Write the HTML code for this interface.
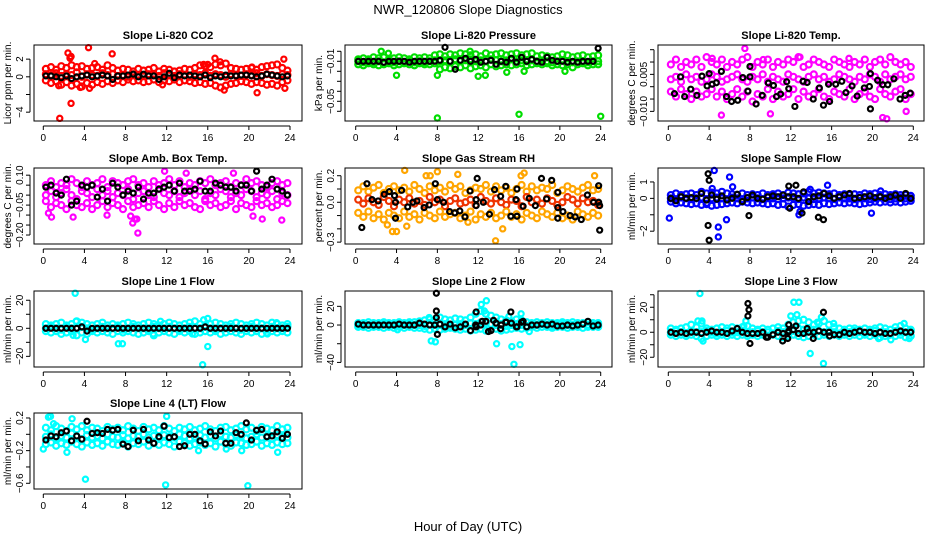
<!DOCTYPE html>
<html><head><meta charset="utf-8"><style>
html,body{margin:0;padding:0;background:#fff;}
svg{display:block;font-family:"Liberation Sans",sans-serif;}
</style></head><body>
<svg id="chart" width="936" height="540" viewBox="0 0 936 540">
<text x="468" y="14" text-anchor="middle" font-size="13">NWR_120806  Slope Diagnostics</text>
<text x="468" y="531" text-anchor="middle" font-size="13">Hour of Day (UTC)</text>
<g id="plots"></g>
</svg>
<script>
const H=[0.25,0.75,1.25,1.75,2.25,2.75,3.25,3.75,4.25,4.75,5.25,5.75,6.25,6.75,7.25,7.75,8.25,8.75,9.25,9.75,10.25,10.75,11.25,11.75,12.25,12.75,13.25,13.75,14.25,14.75,15.25,15.75,16.25,16.75,17.25,17.75,18.25,18.75,19.25,19.75,20.25,20.75,21.25,21.75,22.25,22.75,23.25,23.75];
const xTicks=[0,4,8,12,16,20,24];

// Panel 1: CO2
const co2A=[0.9,1.1,0.8,1.2,1.0,1.3,1.1,1.2,0.9,1.0,1.1,0.8,1.3,1.0,0.7,0.9,0.8,0.6,0.9,0.7,0.8,1.0,0.6,0.9,0.8,0.6,0.7,0.9,0.8,1.0,1.3,1.2,1.1,1.4,1.3,1.5,1.0,0.9,0.8,0.9,1.0,0.8,1.1,1.2,1.3,1.4,1.0,0.7];
const co2B=[0.3,0.2,0.4,0.1,0.3,0.2,0.5,0.0,0.3,0.2,0.1,0.4,0.2,0.3,0.1,0.2,0.0,0.3,0.1,0.2,0.3,0.2,0.1,0.4,0.2,0.1,0.3,0.2,0.0,0.3,0.2,0.4,0.1,0.3,0.2,0.0,0.3,0.2,0.1,0.3,0.2,0.4,0.1,0.3,0.2,0.1,0.3,0.2];
const co2C=[-0.4,-0.7,-0.5,-0.9,-0.6,-1.0,-0.8,-1.1,-0.7,-0.9,-0.6,-0.8,-0.5,-0.7,-0.4,-0.6,-0.3,-0.5,-0.4,-0.6,-0.5,-0.3,-0.6,-0.4,-0.5,-0.3,-0.6,-0.4,-0.5,-0.7,-0.6,-0.8,-0.7,-1.0,-1.2,-1.0,-0.8,-0.7,-0.5,-0.6,-0.8,-0.6,-0.7,-0.9,-0.8,-1.0,-0.6,-0.4];
const co2K=[0.1,0.1,0.0,-0.1,0.1,-0.2,0.0,0.1,0.2,0.0,0.1,0.2,0.1,-0.3,0.1,0.1,0.2,0.3,0.0,0.3,0.1,0.1,-0.3,0.0,0.4,-0.1,0.2,0.1,0.2,0.1,0.0,0.2,-0.1,0.1,0.0,0.2,0.1,0.1,0.2,0.2,0.1,0.0,0.1,0.3,0.2,0.1,0.0,0.1];
const co2OH=[2.4,2.6,2.7,4.4,6.7,1.6,2.7,1.5,3.6,4.5,16.7,17.2,20.8,23.4,23.5,11.6,15.6,5.0,20.3,16.0,17.6];
const co2OV=[2.7,2.1,2.3,3.3,2.6,-4.7,-3.0,-1.0,-1.2,-1.3,2.1,1.7,-1.8,2.0,-1.3,-0.9,1.4,1.5,1.1,1.4,-1.5];

// Panel 2: Pressure
const prA=[-0.008,-0.007,-0.008,-0.006,-0.007,-0.006,-0.008,-0.007,-0.006,-0.007,-0.008,-0.006,-0.007,-0.006,-0.007,-0.004,-0.003,-0.005,-0.003,-0.004,-0.002,-0.003,-0.004,-0.003,-0.005,-0.002,-0.004,-0.003,-0.002,-0.004,-0.003,-0.002,-0.004,-0.003,-0.002,-0.005,-0.004,-0.005,-0.006,-0.005,-0.003,-0.004,-0.006,-0.005,-0.004,-0.006,-0.005,-0.004];
const prB=[-0.010,-0.011,-0.010,-0.011,-0.010,-0.011,-0.010,-0.011,-0.010,-0.011,-0.010,-0.011,-0.010,-0.011,-0.010,-0.009,-0.010,-0.009,-0.010,-0.008,-0.010,-0.009,-0.008,-0.010,-0.009,-0.010,-0.008,-0.009,-0.010,-0.009,-0.008,-0.010,-0.009,-0.010,-0.009,-0.010,-0.009,-0.010,-0.011,-0.010,-0.009,-0.010,-0.011,-0.010,-0.010,-0.011,-0.010,-0.010];
const prC=[-0.013,-0.014,-0.012,-0.013,-0.014,-0.013,-0.012,-0.014,-0.013,-0.012,-0.013,-0.014,-0.012,-0.013,-0.013,-0.012,-0.018,-0.016,-0.017,-0.015,-0.016,-0.014,-0.017,-0.015,-0.014,-0.016,-0.013,-0.015,-0.014,-0.013,-0.014,-0.013,-0.012,-0.014,-0.013,-0.012,-0.013,-0.012,-0.014,-0.013,-0.014,-0.013,-0.016,-0.013,-0.012,-0.014,-0.013,-0.013];
const prK=[-0.010,-0.010,-0.010,-0.010,-0.010,-0.011,-0.010,-0.010,-0.010,-0.010,-0.011,-0.010,-0.010,-0.010,-0.010,-0.010,-0.009,0.004,-0.010,-0.018,-0.009,-0.007,-0.010,-0.008,-0.011,-0.010,-0.009,-0.013,-0.010,-0.011,-0.007,-0.011,-0.006,-0.010,-0.008,-0.010,-0.011,-0.006,-0.009,-0.010,-0.010,-0.011,-0.010,-0.011,-0.010,-0.010,-0.010,0.003];
const prOH=[2.5,3.2,4.0,8.0,8.0,16.0,24.0,11.2,16.5,20.5,12.0,12.7,14.8];
const prOV=[0.0,-0.002,-0.024,-0.024,-0.0667,-0.063,-0.065,0.0,-0.020,-0.020,-0.025,-0.024,-0.021];

// Panel 3: Li-820 Temp
const tpA=[0.009,0.011,0.008,0.010,0.009,0.011,0.008,0.012,0.010,0.009,0.011,0.008,0.010,0.009,0.011,0.012,0.008,0.010,0.009,0.011,0.008,0.010,0.009,0.011,0.010,0.012,0.008,0.009,0.011,0.010,0.009,0.008,0.011,0.010,0.009,0.008,0.010,0.009,0.011,0.008,0.010,0.011,0.009,0.012,0.010,0.009,0.010,0.008];
const tpB=[0.003,0.004,0.002,0.005,0.003,0.004,0.002,0.003,0.005,0.004,0.002,0.003,0.004,0.005,0.003,0.002,0.004,0.003,0.005,0.002,0.004,0.003,0.002,0.005,0.004,0.003,0.002,0.004,0.005,0.003,0.004,0.002,0.003,0.005,0.004,0.003,0.002,0.004,0.003,0.005,0.004,0.002,0.005,0.003,0.004,0.005,0.003,0.004];
const tpC=[-0.002,-0.004,-0.001,-0.003,-0.005,-0.002,-0.004,-0.003,-0.001,-0.004,-0.002,-0.005,-0.003,-0.001,-0.004,-0.002,-0.006,-0.003,-0.004,-0.001,-0.005,-0.002,-0.004,-0.003,-0.001,-0.005,-0.002,-0.004,-0.003,-0.001,-0.004,-0.005,-0.002,-0.003,-0.004,-0.001,-0.005,-0.003,-0.002,-0.004,-0.005,-0.001,-0.003,-0.004,-0.002,-0.001,-0.005,-0.003];
const tpKH=[0.6,1.2,1.6,2.2,2.8,3.3,3.8,4.0,4.3,4.7,5.2,5.7,6.2,6.8,7.3,7.8,8.0,8.0,8.6,9.2,9.8,10.3,10.6,11.0,11.6,11.8,12.4,13.2,13.6,14.2,14.8,15.2,15.7,15.8,16.4,17.0,17.4,18.0,18.5,19.2,19.7,19.8,19.8,20.5,21.0,21.5,22.1,22.7,23.2,23.7];
const tpKV=[-0.0028,0.004,-0.004,-0.001,-0.0035,0.0043,0.0003,0.0053,0.001,0.0016,0.0062,-0.004,-0.006,-0.0055,0.0037,-0.0018,0.004,0.0082,-0.007,-0.0035,0.0015,0.0005,-0.004,-0.003,0.002,-0.0008,-0.008,0.0022,0.0017,-0.005,-0.0005,-0.0075,0.001,-0.006,0.001,0.0022,-0.0024,0.0003,-0.0038,-0.0005,0.0001,0.0053,-0.009,0.0026,0.0008,0.0008,0.0032,-0.005,-0.0035,-0.0026];
const tpOH=[7.5,5.2,21.0,21.4,23.3,17.7,10.0,12.9,4.3,9.3];
const tpOV=[0.0155,-0.0115,-0.0125,-0.013,-0.010,0.0115,-0.011,0.012,0.0115,0.011];

// Panel 4: Amb. Box Temp
const abA=[0.05,0.07,0.04,0.06,0.05,0.08,0.06,0.04,0.07,0.05,0.06,0.08,0.04,0.07,0.06,0.05,0.07,0.08,0.05,0.06,0.04,0.07,0.05,0.06,0.08,0.05,0.07,0.04,0.06,0.05,0.07,0.06,0.08,0.05,0.06,0.07,0.04,0.06,0.05,0.08,0.06,0.07,0.05,0.04,0.06,0.07,0.05,0.06];
const abB=[0.00,0.02,-0.01,0.01,0.03,0.00,-0.02,0.02,0.01,-0.01,0.03,0.00,0.02,-0.01,0.01,0.00,0.03,-0.02,0.01,0.02,0.00,-0.01,0.03,0.01,0.00,0.02,-0.01,0.01,0.03,0.00,0.02,-0.02,0.01,0.00,0.03,0.02,-0.01,0.01,0.00,0.03,0.02,-0.01,0.01,0.00,0.02,-0.02,0.01,0.00];
const abC=[-0.03,-0.06,-0.04,-0.05,-0.07,-0.03,-0.05,-0.06,-0.04,-0.07,-0.05,-0.03,-0.06,-0.04,-0.05,-0.07,-0.03,-0.06,-0.05,-0.04,-0.06,-0.03,-0.05,-0.07,-0.04,-0.06,-0.03,-0.05,-0.04,-0.06,-0.07,-0.03,-0.05,-0.04,-0.06,-0.05,-0.03,-0.07,-0.04,-0.05,-0.06,-0.03,-0.05,-0.04,-0.06,-0.05,-0.03,-0.04];
const abK=[0.04,0.05,0.01,0.0,0.08,-0.05,-0.03,0.05,0.04,0.05,-0.01,0.03,-0.03,0.06,0.04,0.0,0.02,0.01,0.04,-0.02,0.01,0.01,0.03,0.04,0.05,0.02,0.06,0.02,0.02,0.03,0.07,0.02,0.02,0.06,0.05,0.04,0.04,0.02,0.05,0.05,0.02,0.12,0.03,0.05,0.08,0.03,0.02,0.0];
const abOH=[9.2,8.7,9.1,8.9,0.8,2.9,20.4,21.3,23.2,0.5,11.8,18.5,8.5,6.2,13.9];
const abOV=[-0.19,-0.14,-0.12,-0.12,-0.11,-0.11,-0.105,-0.12,-0.125,-0.09,0.12,0.11,-0.105,-0.10,0.11];

// Panel 5: Gas Stream RH
const rhA=[0.09,0.12,0.08,0.11,0.13,0.07,0.10,0.12,0.09,0.11,0.08,0.13,0.10,0.07,0.12,0.09,0.11,0.08,0.13,0.10,0.12,0.07,0.09,0.11,0.10,0.13,0.08,0.12,0.09,0.11,0.07,0.10,0.13,0.08,0.12,0.09,0.11,0.10,0.13,0.07,0.09,0.12,0.10,0.08,0.11,0.13,0.09,0.10];
const rhB=[0.02,-0.01,0.03,0.00,-0.02,0.04,0.01,-0.03,0.02,0.00,0.03,-0.01,0.01,-0.02,0.04,0.00,0.02,-0.03,0.01,0.03,-0.01,0.00,0.02,-0.02,0.04,0.01,-0.01,0.03,0.00,-0.02,0.02,0.01,-0.03,0.04,0.00,0.02,-0.01,0.03,0.01,-0.02,0.00,0.04,0.02,-0.01,0.03,0.00,0.01,-0.02];
const rhC=[-0.08,-0.11,-0.07,-0.12,-0.09,-0.13,-0.08,-0.10,-0.12,-0.07,-0.11,-0.09,-0.13,-0.08,-0.10,-0.12,-0.07,-0.11,-0.09,-0.08,-0.12,-0.10,-0.07,-0.13,-0.09,-0.11,-0.08,-0.12,-0.10,-0.07,-0.11,-0.09,-0.13,-0.08,-0.10,-0.12,-0.07,-0.09,-0.11,-0.08,-0.12,-0.10,-0.13,-0.07,-0.09,-0.11,-0.08,-0.10];
const rhKH=[0.6,1.1,1.6,2.2,2.8,3.3,3.8,3.9,3.9,4.5,5.1,5.6,6.0,6.7,7.2,7.8,8.0,8.6,9.2,9.7,10.2,10.7,11.2,11.8,11.8,11.9,12.5,13.1,13.6,14.2,14.7,15.2,15.7,15.8,15.8,16.4,17.0,17.6,18.2,18.7,19.2,19.8,19.8,19.8,20.3,21.0,21.5,22.1,22.7,23.3,23.8,23.8,23.9,23.9];
const rhKV=[-0.19,0.14,0.02,0.01,0.06,0.08,0.05,-0.12,0.0,0.09,-0.035,0.0,0.01,-0.04,-0.02,0.14,0.02,0.0,-0.07,-0.08,-0.065,-0.11,0.085,0.02,-0.025,0.18,0.0,-0.09,0.095,0.045,0.12,-0.105,0.02,0.1,-0.105,-0.03,0.03,-0.025,0.18,0.025,0.165,0.075,-0.04,-0.12,-0.07,-0.1,-0.11,-0.13,0.055,0.0,0.0,0.125,-0.21,-0.025];
const rhOH=[4.8,6.9,8.0,10.0,13.7,16.5,23.4,3.1,3.6,4.0,5.0,14.4,11.0,7.3,16.2];
const rhOV=[0.24,0.2,0.23,0.21,-0.29,0.22,0.2,-0.17,-0.22,-0.22,-0.18,-0.2,-0.15,0.2,0.2];

// Panel 6: Sample Flow
const sfA=[0.2,0.3,0.2,0.25,0.3,0.2,0.4,0.3,0.35,0.3,0.4,0.3,0.25,0.2,0.3,0.2,0.25,0.2,0.3,0.2,0.25,0.3,0.2,0.35,0.3,0.25,0.3,0.4,0.3,0.35,0.3,0.25,0.3,0.2,0.25,0.2,0.25,0.2,0.3,0.25,0.3,0.2,0.25,0.2,0.25,0.2,0.2,0.15];
const sfB=[0.0,-0.05,0.05,0.0,-0.05,0.0,0.05,-0.05,0.0,0.05,0.0,-0.05,0.05,0.0,-0.05,0.0,0.05,0.0,-0.05,0.05,0.0,-0.05,0.0,0.05,0.0,-0.05,0.05,0.0,-0.05,0.0,0.05,0.0,-0.05,0.05,0.0,0.0,-0.05,0.05,0.0,-0.05,0.0,0.05,0.0,-0.05,0.0,0.05,0.0,0.0];
const sfC=[-0.2,-0.3,-0.25,-0.3,-0.35,-0.3,-0.4,-0.35,-0.45,-0.4,-0.35,-0.3,-0.25,-0.3,-0.2,-0.25,-0.3,-0.25,-0.3,-0.35,-0.3,-0.4,-0.35,-0.5,-0.4,-0.35,-0.45,-0.4,-0.35,-0.4,-0.3,-0.35,-0.3,-0.25,-0.3,-0.25,-0.3,-0.35,-0.3,-0.25,-0.2,-0.25,-0.2,-0.25,-0.2,-0.25,-0.2,-0.15];
const sfK=[0.0,-0.15,0.1,0.0,0.05,0.0,0.3,-0.1,0.2,-0.05,0.15,-0.1,0.0,0.25,-0.2,0.05,0.2,0.0,-0.05,0.1,0.15,0.1,0.2,0.1,0.1,0.0,0.4,-0.2,0.1,0.15,0.3,0.15,0.0,0.1,0.2,0.3,0.0,0.05,0.1,0.15,0.05,0.1,0.0,0.1,0.2,0.0,0.3,0.0];
const sfXH=[3.9,4.0,3.9,4.0,7.9,11.8,12.5,11.9,13.1,14.7,15.2];
const sfXV=[1.5,1.1,-1.65,-2.55,-1.05,0.75,0.8,-0.6,-0.9,-1.15,-1.3];
const sfOH=[0.1,4.5,6.0,4.9,4.9,5.7,4.3,6.3,12.8,12.9,13.9,15.6,19.9,20.8,3.8];
const sfOV=[-1.2,1.7,1.3,-1.75,-2.35,-1.3,0.6,0.7,-1.0,-0.8,0.55,0.8,-0.9,0.45,-0.3];

// Panel 7: Line 1 Flow
const l1A=[3,2,3,4,2,3,5,4,3,2,3,4,2,3,2,3,4,3,2,3,4,3,2,3,4,3,2,3,4,5,3,2,3,4,3,2,3,4,3,2,3,4,3,2,4,3,2,3];
const l1B=[0,1,0,-1,1,0,0,1,0,-1,0,1,0,0,1,-1,0,1,0,0,-1,1,0,0,1,0,-1,0,1,0,0,1,0,-1,0,0,1,0,-1,0,1,0,0,-1,1,0,0,1];
const l1C=[-2,-3,-2,-4,-3,-2,-5,-3,-4,-2,-3,-2,-3,-4,-2,-3,-2,-3,-4,-3,-2,-5,-3,-2,-3,-4,-2,-3,-2,-4,-3,-2,-3,-2,-4,-3,-2,-3,-4,-2,-3,-2,-4,-3,-2,-3,-2,-3];
const l1K=[0,0,0,0,0,0,0,1,-2,0,0,0,0,0,0,0,0,0,0,0,0,0,0,0,0,0,0,0,0,0,0,1,0,0,0,0,0,0,0,0,0,0,0,0,0,0,0,0];
const l1OH=[3.1,3.2,4.1,7.3,7.7,15.5,16.0,16.0,15.6,2.9,10.7,11.4,14.5,22.7,21.8];
const l1OV=[25,5,-8,-11,-11,-26,-13,7,6,-5,-4,5,-4,4,-4];

// Panel 8: Line 2 Flow
const l2A=[2,2,3,2,2,3,2,2,3,2,3,3,4,5,6,5,8,6,5,7,6,5,8,12,15,12,10,8,6,5,4,6,5,3,2,3,2,3,2,2,3,2,3,2,2,3,2,2];
const l2B=[0,1,0,-1,0,1,0,0,-1,0,1,0,0,-1,1,0,0,1,-1,0,1,0,2,1,3,2,1,0,1,-1,0,1,0,-1,0,0,1,0,-1,0,1,0,0,-1,1,0,0,0];
const l2C=[-2,-2,-3,-2,-2,-3,-2,-3,-2,-3,-2,-3,-3,-4,-5,-4,-5,-4,-3,-4,-5,-4,-6,-5,-4,-6,-5,-4,-6,-5,-4,-3,-4,-3,-2,-3,-2,-2,-3,-2,-2,-3,-2,-2,-3,-2,-2,-2];
const l2K=[1,0,0,0,0,0,0,0,1,0,0,0,2,1,0,0,1,-2,1,-3,-2,1,-6,0,0,4,-6,2,0,3,2,-2,3,-2,0,0,1,0,1,-1,-1,0,-1,0,1,4,-1,0];
const l2XH=[7.9,7.9,7.9,8.0,11.8,11.8,12.4,13.0,13.5,14.2,14.7,15.2,15.8,16.4];
const l2XV=[34,15,8,-10,14,-2,4,-7,5,-4,3,14,-2,4];
const l2OH=[7.2,7.4,7.8,12.3,12.8,12.6,13.8,15.3,16.1,15.5,16.2,15.0,4.1,17.0];
const l2OV=[8,-17,-18,22,26,15,-20,-23,-21,-42,12,9,-5,-7];

// Panel 9: Line 3 Flow
const l3A=[3,2,3,4,6,4,7,3,2,3,4,3,4,3,4,5,3,2,3,2,3,4,3,6,8,9,10,8,6,7,9,6,4,3,2,3,3,2,3,2,3,4,3,2,4,5,3,2];
const l3B=[0,1,0,-1,1,0,0,1,0,-1,0,1,0,0,1,-1,0,1,0,0,-1,1,0,2,1,3,2,1,2,1,0,1,0,-1,0,0,1,0,-1,0,1,0,0,-1,1,0,0,1];
const l3C=[-2,-3,-2,-3,-2,-3,-5,-3,-2,-3,-2,-3,-2,-3,-2,-3,-2,-3,-2,-3,-2,-3,-4,-3,-2,-3,-4,-3,-2,-3,-2,-3,-2,-3,-2,-3,-2,-3,-2,-3,-2,-4,-3,-2,-3,-2,-4,-3];
const l3K=[0,-1,0,-1,0,0,-1,0,1,0,0,-1,1,3,0,-1,-1,-1,0,-4,-2,0,-1,0,2,-1,-1,0,0,1,0,0,-2,-2,0,-1,0,1,0,0,-1,0,-1,-1,0,1,0,0];
const l3XH=[7.8,7.9,7.8,8.0,11.8,11.8,11.7,12.5,15.2,14.2,11.2,9.6,13.6,15.8];
const l3XV=[23,18,13,-9,6,1,-5,5,16,-5,-7,-4,3,-3];
const l3OH=[3.1,2.9,3.3,3.4,7.6,7.4,12.3,12.8,12.0,12.6,13.9,15.2,14.6,15.0,16.2,23.1,23.6,21.8,20.6];
const l3OV=[31,9,9,-7,9,5,24,24,13,14,-17,-25,8,12,7,7,-5,-6,-5];

// Panel 10: Line 4 (LT) Flow
const l4A=[0.08,0.05,0.10,0.07,0.04,0.09,0.06,0.10,0.05,0.08,0.07,0.04,0.09,0.06,0.08,0.05,0.10,0.07,0.04,0.09,0.06,0.08,0.05,0.10,0.07,0.04,0.08,0.06,0.09,0.05,0.07,0.10,0.06,0.04,0.08,0.09,0.05,0.07,0.10,0.06,0.08,0.04,0.09,0.07,0.05,0.10,0.06,0.08];
const l4B=[-0.03,0.00,-0.05,-0.02,-0.04,0.01,-0.03,-0.06,-0.01,-0.04,-0.02,-0.05,0.00,-0.03,-0.04,-0.01,-0.05,-0.02,-0.03,0.00,-0.04,-0.02,-0.05,-0.01,-0.03,-0.04,0.00,-0.02,-0.05,-0.03,-0.01,-0.04,-0.02,-0.05,0.00,-0.03,-0.04,-0.01,-0.02,-0.05,-0.03,0.00,-0.04,-0.02,-0.05,-0.01,-0.03,-0.04];
const l4C=[-0.12,-0.10,-0.14,-0.11,-0.13,-0.09,-0.12,-0.15,-0.10,-0.13,-0.11,-0.14,-0.09,-0.12,-0.13,-0.10,-0.15,-0.11,-0.12,-0.09,-0.14,-0.11,-0.13,-0.10,-0.12,-0.15,-0.09,-0.11,-0.14,-0.12,-0.10,-0.13,-0.11,-0.15,-0.09,-0.12,-0.14,-0.10,-0.11,-0.13,-0.12,-0.09,-0.14,-0.11,-0.13,-0.10,-0.12,-0.11];
const l4K=[-0.07,-0.02,-0.03,0.02,0.04,-0.08,-0.02,-0.06,0.16,0.01,0.02,0.01,0.06,0.05,0.06,-0.12,-0.15,0.05,-0.08,0.06,-0.07,-0.11,-0.03,0.1,-0.04,-0.03,-0.15,-0.14,0.0,0.0,-0.08,-0.12,0.03,-0.02,0.04,-0.11,-0.11,0.02,0.0,0.14,-0.07,0.05,0.06,-0.03,-0.02,0.03,-0.05,0.0];
const l4OH=[0.5,0.7,0.0,2.3,4.1,11.9,19.9,22.8,12.0,19.3,1.0,2.8,17.8,15.1];
const l4OV=[0.21,0.22,-0.18,-0.22,-0.55,-0.62,-0.63,-0.22,0.22,-0.2,0.13,0.19,-0.18,-0.2];

const cols=[{L:34,R:302,x0:43.3,x24:290},{L:345,R:612,x0:355.7,x24:600.7},{L:658,R:924,x0:668.3,x24:913.3}];
const rows=[{T:45,B:121},{T:168,B:244},{T:291,B:367},{T:413,B:489}];
const panels=[
 {c:0,r:0,name:'co2',title:'Slope Li-820 CO2',yl:'Licor ppm per min.',lim:[3.6,-5.0],ticks:[2,0,-2,-4],labs:['2','0','-4'],col:'#ff0000',A:co2A,B:co2B,C:co2C,K:co2K,KH:H,XH:[],XV:[],OH:co2OH,OV:co2OV},
 {c:1,r:0,name:'pressure',title:'Slope Li-820 Pressure',yl:'kPa per min.',lim:[0.0063,-0.0697],ticks:[0,-0.01,-0.02,-0.03,-0.04,-0.05,-0.06],labs:['-0.01','-0.05'],col:'#00dd00',A:prA,B:prB,C:prC,K:prK,KH:H,XH:[],XV:[],OH:prOH,OV:prOV},
 {c:2,r:0,name:'temp',title:'Slope Li-820 Temp.',yl:'degrees C per min.',lim:[0.0169,-0.0139],ticks:[0.015,0.01,0.005,0,-0.005,-0.01],labs:['0.005','-0.010'],col:'#ff00ff',A:tpA,B:tpB,C:tpC,K:tpKV,KH:tpKH,XH:[],XV:[],OH:tpOH,OV:tpOV},
 {c:0,r:1,name:'amb-temp',title:'Slope Amb. Box Temp.',yl:'degrees C per min.',lim:[0.136,-0.245],ticks:[0.1,0.05,0,-0.05,-0.1,-0.15,-0.2],labs:['0.10','-0.05','-0.20'],col:'#ff00ff',A:abA,B:abB,C:abC,K:abK,KH:H,XH:[],XV:[],OH:abOH,OV:abOV},
 {c:1,r:1,name:'rh',title:'Slope Gas Stream RH',yl:'percent per min.',lim:[0.258,-0.314],ticks:[0.2,0.1,0,-0.1,-0.2,-0.3],labs:['0.2','0.0','-0.3'],col:'#ffa500',col2:'#ee3300',A:rhA,B:rhB,C:rhC,K:rhKV,KH:rhKH,XH:[],XV:[],OH:rhOH,OV:rhOV},
 {c:2,r:1,name:'sample-flow',title:'Slope Sample Flow',yl:'ml/min per min.',lim:[1.85,-2.78],ticks:[1,0,-1,-2],labs:['1','0','-2'],col:'#0000ff',A:sfA,B:sfB,C:sfC,K:sfK,KH:H,XH:sfXH,XV:sfXV,OH:sfOH,OV:sfOV},
 {c:0,r:2,name:'line1',title:'Slope Line 1 Flow',yl:'ml/min per min.',lim:[26.6,-27.6],ticks:[20,10,0,-10,-20],labs:['20','0','-20'],col:'#00ffff',A:l1A,B:l1B,C:l1C,K:l1K,KH:H,XH:[],XV:[],OH:l1OH,OV:l1OV},
 {c:1,r:2,name:'line2',title:'Slope Line 2 Flow',yl:'ml/min per min.',lim:[36.4,-44.9],ticks:[20,0,-20,-40],labs:['20','0','-40'],col:'#00ffff',A:l2A,B:l2B,C:l2C,K:l2K,KH:H,XH:l2XH,XV:l2XV,OH:l2OH,OV:l2OV},
 {c:2,r:2,name:'line3',title:'Slope Line 3 Flow',yl:'ml/min per min.',lim:[33,-27.8],ticks:[30,20,10,0,-10,-20],labs:['20','0','-20'],col:'#00ffff',A:l3A,B:l3B,C:l3C,K:l3K,KH:H,XH:l3XH,XV:l3XV,OH:l3OH,OV:l3OV},
 {c:0,r:3,name:'line4',title:'Slope Line 4 (LT) Flow',yl:'ml/min per min.',lim:[0.261,-0.67],ticks:[0.2,0,-0.2,-0.4,-0.6],labs:['0.2','-0.2','-0.6'],col:'#00ffff',A:l4A,B:l4B,C:l4C,K:l4K,KH:H,XH:[],XV:[],OH:l4OH,OV:l4OV}
];
const NS='http://www.w3.org/2000/svg';
const root=document.getElementById('plots');
function mk(tag,attrs,parent){const e=document.createElementNS(NS,tag);for(const k in attrs)e.setAttribute(k,attrs[k]);parent.appendChild(e);return e;}
panels.forEach(p=>{
 const C=cols[p.c],R=rows[p.r];
 const xs=h=>C.x0+h*(C.x24-C.x0)/24;
 const ys=v=>R.T+(p.lim[0]-v)/(p.lim[0]-p.lim[1])*(R.B-R.T);
 const g=mk('g',{},root);
 
 
 const t=mk('text',{x:(C.L+C.R)/2,y:R.T-6,'text-anchor':'middle','font-size':11,'font-weight':'bold'},g);
 t.textContent=p.title;
 
 
 const yt=mk('text',{transform:`translate(${C.L-23},${(R.T+R.B)/2}) rotate(-90)`,'text-anchor':'middle','font-size':10},g);
 yt.textContent=p.yl;
 
 
 const mg=mk('g',{fill:'none','stroke-width':2.2},g);
 
 
 const dot=(h,v,col,r)=>{const c=mk('circle',{cx:xs(h),cy:ys(v),r:r,stroke:col},mg);
  
  };
 [p.A,p.B,p.C].forEach((arr,j)=>arr.forEach((v,i)=>dot(H[i],v,(p.col2&&j===1)?p.col2:p.col,3.0)));
 p.OH.forEach((h,i)=>dot(h,p.OV[i],p.col,2.6));
 p.K.forEach((v,i)=>dot(p.KH[i],v,'#000',2.5));
 p.XH.forEach((h,i)=>dot(h,p.XV[i],'#000',2.5));
 const ax=mk('g',{stroke:'#000','stroke-width':1,fill:'none'},g);
 
 
 mk('rect',{x:C.L,y:R.T,width:C.R-C.L,height:R.B-R.T},ax);
 mk('line',{x1:xs(0),x2:xs(24),y1:R.B+5,y2:R.B+5},ax);
 xTicks.forEach(h=>{mk('line',{x1:xs(h),x2:xs(h),y1:R.B+5,y2:R.B+9},ax);
  const l=mk('text',{x:xs(h),y:R.B+20,'text-anchor':'middle','font-size':10,stroke:'none',fill:'#000'},g);
  l.textContent=h;
  
  });
 const yy=p.ticks.map(ys);
 mk('line',{x1:C.L-4,x2:C.L-4,y1:Math.min(...yy),y2:Math.max(...yy)},ax);
 p.ticks.forEach(v=>mk('line',{x1:C.L-4,x2:C.L-8,y1:ys(v),y2:ys(v)},ax));
 p.labs.forEach(s=>{const v=parseFloat(s);
  const l=mk('text',{transform:`translate(${C.L-11},${ys(v)}) rotate(-90)`,'text-anchor':'middle','font-size':10},g);
  l.textContent=s.replace('-','\u2212');
  
  });
});
</script>
</body></html>
